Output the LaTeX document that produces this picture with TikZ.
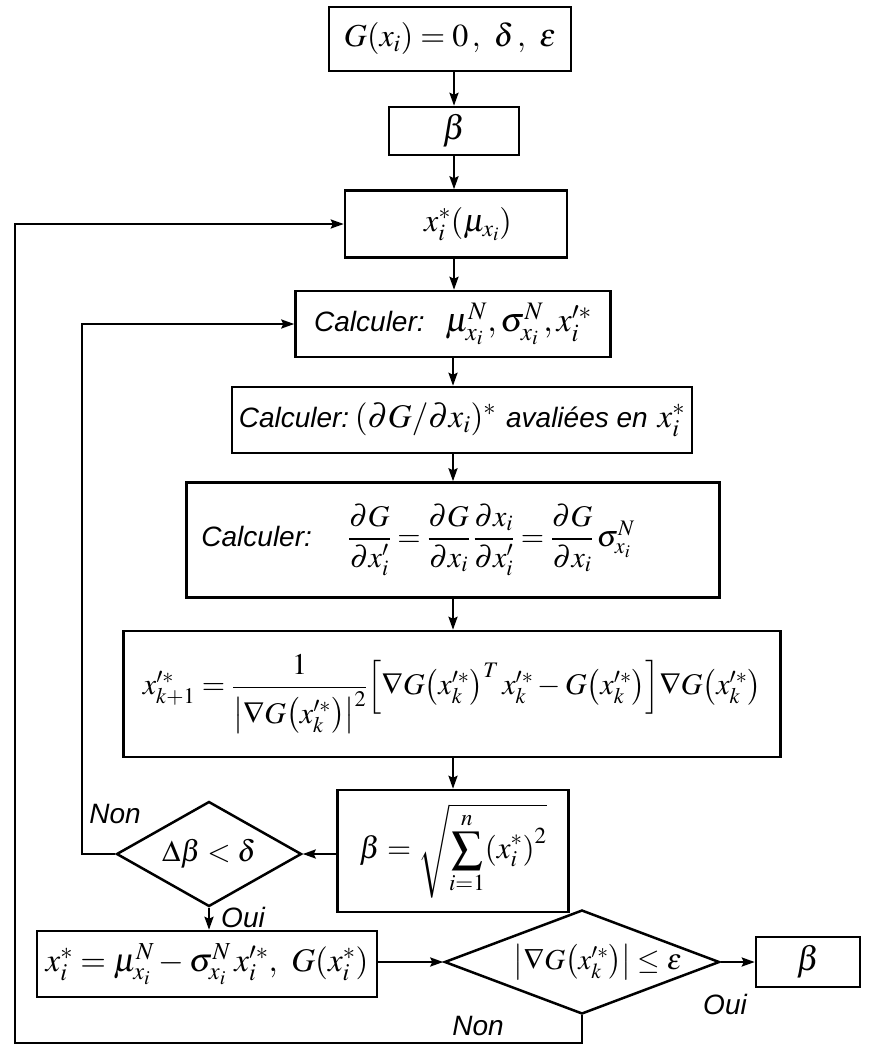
\documentclass[tikz,border=0pt]{standalone}
\usepackage{amsmath}
\usepackage{mathptmx}
\usepackage[no-math]{fontspec}
\newfontfamily\helv{Liberation Sans}
\usetikzlibrary{arrows.meta,shapes.geometric}
\newcommand{\sanstxt}[1]{{\helv\itshape\fontsize{28}{32}\selectfont #1}}
\newcommand{\pp}[1]{\mathopen{}\left(#1\right)\mathclose{}}
\newcommand{\fs}[1]{\fontsize{#1}{#1}\selectfont}
\begin{document}
\begin{tikzpicture}[x=1pt,y=-1pt,
  box/.style={draw, line width=2.5pt, inner sep=2pt},
  dia/.style={draw, diamond, line width=2.5pt, inner sep=0pt},
  mtxt/.style={inner sep=0pt},
  lbl/.style={inner sep=0pt, font=\helv\itshape\fontsize{28}{32}\selectfont},
  arr/.style={line width=2.3pt, -{Stealth[length=13pt,width=9pt,inset=2pt]}}]
\useasboundingbox (0,0) rectangle (875,1046);
% boxes
\node[box, minimum width=242pt, minimum height=64pt, font=\fs{32}] (b1) at (450,39) {$G\pp{x_i}=0\,,\ \delta\,,\ \varepsilon$};
\node[box, minimum width=130pt, minimum height=48pt, font=\fs{34}] (b2) at (454,131) {$\beta$};
\node[box, minimum width=222pt, minimum height=67pt] (b3) at (456,224) {};
\node[mtxt, font=\fs{32}] (b3t) at (468,224) {$x_i^{*}\pp{\mu_{x_i}}$};
\node[box, minimum width=315pt, minimum height=66pt, font=\fs{34}] (b4) at (453,324) {\sanstxt{Calculer:}\ \ $\mu_{x_i}^{N},\sigma_{x_i}^{N},x_i^{\prime *}$};
\node[box, minimum width=460pt, minimum height=66pt, font=\fs{33}] (b5) at (462,420) {\sanstxt{Calculer:}\,$\pp{\partial G/\partial x_i}^{*}$ \sanstxt{avaliées en}\ $x_i^{*}$};
\node[box, minimum width=533pt, minimum height=115pt] (b6) at (453,540) {};
\node[mtxt, anchor=west, font=\fs{30}] (b6t) at ([xshift=16pt]b6.west) {\sanstxt{Calculer:}\ \ \ \ $\dfrac{\partial G}{\partial x_i^{\prime}}=\dfrac{\partial G}{\partial x_i}\,\dfrac{\partial x_i}{\partial x_i^{\prime}}=\dfrac{\partial G}{\partial x_i}\,\sigma_{x_i}^{N}$};
\node[box, minimum width=657pt, minimum height=126pt, font=\fs{30}] (b7) at (452,694) {$x_{k+1}^{\prime *}=\dfrac{1}{\mathopen{}\left|\nabla G\pp{x_k^{\prime *}}\right|^{2}}\mathopen{}\left[\nabla G\mathopen{}\left(x_k^{\prime *}\right)^{T} x_k^{\prime *}-G\pp{x_k^{\prime *}}\right]\mathclose{}\nabla G\pp{x_k^{\prime *}}$};
\node[box, minimum width=231pt, minimum height=122pt, font=\fs{31}] (b8) at (453,851) {$\beta=\sqrt{\displaystyle\sum_{i=1}^{n}\mathopen{}\left(x_i^{*}\right)^{2}}$};
\node[dia, minimum width=185pt, minimum height=105pt] (d1) at (209,854) {};
\node[mtxt, font=\fs{30}] (d1t) at (d1) {$\Delta\beta<\delta$};
\node[box, minimum width=340pt, minimum height=66pt, font=\fs{33}] (b9) at (207,964) {$x_i^{*}=\mu_{x_i}^{N}-\sigma_{x_i}^{N}\,x_i^{\prime *},\ G\pp{x_i^{*}}$};
\node[dia, minimum width=275pt, minimum height=104pt] (d2) at (582,962) {};
\node[mtxt, font=\fs{29}] (d2t) at ([xshift=16pt]d2.center) {$\mathopen{}\left|\nabla G\pp{x_k^{\prime *}}\right|\mathclose{}\le\varepsilon$};
\node[box, minimum width=104pt, minimum height=50pt, font=\fs{34}] (b10) at (808,962) {$\beta$};
% labels
\node[lbl] (non1) at (115,814) {Non};
\node[lbl] (oui1) at (243,917) {Oui};
\node[lbl] (oui2) at (725,1004) {Oui};
\node[lbl] (non2) at (478,1026) {Non};
% main flow
\draw[arr] (b1.south -| b2.north) -- (b2.north);
\draw[arr] (b2.south) -- (b2.south |- b3.north);
\draw[arr] (b3.south -| b2.south) -- (b2.south |- b4.north);
\draw[arr] (b4.south) -- (b4.south |- b5.north);
\draw[arr] (b4.south |- b5.south) -- (b4.south |- b6.north);
\draw[arr] (b6.south) -- (b6.south |- b7.north);
\draw[arr] (b8.north |- b7.south) -- (b8.north);
\draw[arr] (b8.west |- d1.east) -- (d1.east);
\draw[arr] (d1.south) -- (d1.south |- b9.north);
\draw[arr] (b9.east |- d2.west) -- (d2.west);
\draw[arr] (d2.east) -- (b10.west |- d2.east);
% loops
\coordinate (c1) at (82,0);
\draw[arr] (d1.west) -- (d1.west -| c1) -- (c1 |- b4.west) -- (b4.west);
\coordinate (c2) at (15,1043);
\draw[arr] (d2.south) -- (d2.south |- c2) -- (c2) -- (c2 |- b3.west) -- (b3.west);
\end{tikzpicture}
\end{document}
